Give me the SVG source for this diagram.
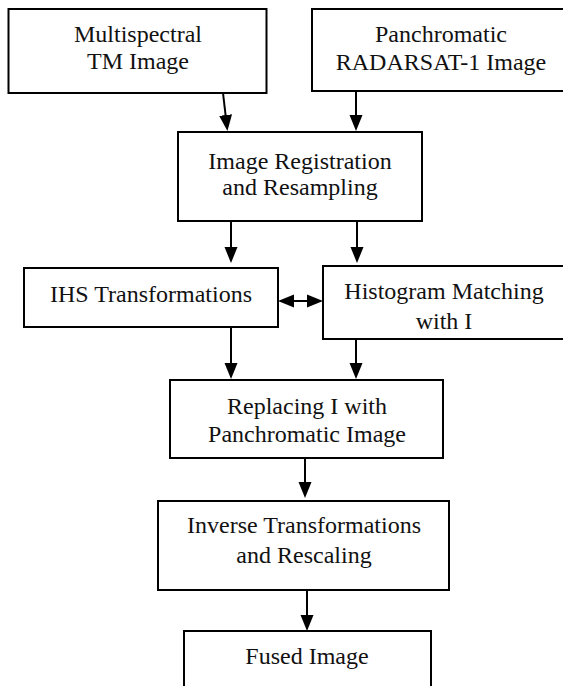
<svg xmlns="http://www.w3.org/2000/svg" width="563" height="686" viewBox="0 0 563 686">
  <defs>
    <marker id="head" markerUnits="userSpaceOnUse" markerWidth="16" markerHeight="14" refX="8" refY="7" orient="auto-start-reverse">
      <path d="M0,0.5 L16,7 L0,13.5 Z" fill="#000"/>
    </marker>
    <style>
      .box { fill: #fff; stroke: #000; stroke-width: 2; }
      .lbl { font-family: 'Liberation Serif', 'DejaVu Serif', serif; font-size: 24px; fill: #111; text-anchor: middle; }
      .conn line { stroke: #000; stroke-width: 2; marker-end: url(#head); }
    </style>
  </defs>
  <rect width="563" height="686" fill="#fff"/>

  <g id="ms-image">
    <rect class="box" x="8.5" y="9" width="258" height="84"/>
    <text class="lbl" x="138" y="42">Multispectral</text>
    <text class="lbl" x="138" y="69">TM Image</text>
  </g>

  <g id="pan-image">
    <rect class="box" x="312" y="9" width="260" height="82"/>
    <text class="lbl" x="441" y="42">Panchromatic</text>
    <text class="lbl" x="441" y="70">RADARSAT-1 Image</text>
  </g>

  <g id="registration">
    <rect class="box" x="178" y="132" width="244" height="89"/>
    <text class="lbl" x="300" y="169">Image Registration</text>
    <text class="lbl" x="300" y="195">and Resampling</text>
  </g>

  <g id="ihs">
    <rect class="box" x="24" y="268" width="254" height="59"/>
    <text class="lbl" x="151" y="302">IHS Transformations</text>
  </g>

  <g id="histogram">
    <rect class="box" x="323" y="266" width="250" height="73"/>
    <text class="lbl" x="444" y="299">Histogram Matching</text>
    <text class="lbl" x="444" y="329">with I</text>
  </g>

  <g id="replacing">
    <rect class="box" x="170" y="380" width="273" height="78"/>
    <text class="lbl" x="307" y="414">Replacing I with</text>
    <text class="lbl" x="307" y="442">Panchromatic Image</text>
  </g>

  <g id="inverse">
    <rect class="box" x="158" y="501" width="291" height="89"/>
    <text class="lbl" x="304" y="533">Inverse Transformations</text>
    <text class="lbl" x="304" y="563">and Rescaling</text>
  </g>

  <g id="fused">
    <rect class="box" x="184" y="631" width="247" height="80"/>
    <text class="lbl" x="307" y="664">Fused Image</text>
  </g>

  <g id="connectors" class="conn">
    <line x1="223" y1="93" x2="226.5" y2="123"/>
    <line x1="356" y1="91" x2="356" y2="123"/>
    <line x1="231" y1="221" x2="231" y2="255"/>
    <line x1="357" y1="221" x2="357" y2="255"/>
    <line x1="286" y1="301" x2="315" y2="301" style="marker-start: url(#head)"/>
    <line x1="231" y1="327" x2="231" y2="371"/>
    <line x1="356" y1="339" x2="356" y2="371"/>
    <line x1="305" y1="458" x2="305" y2="490"/>
    <line x1="307" y1="590" x2="307" y2="623"/>
  </g>
</svg>
